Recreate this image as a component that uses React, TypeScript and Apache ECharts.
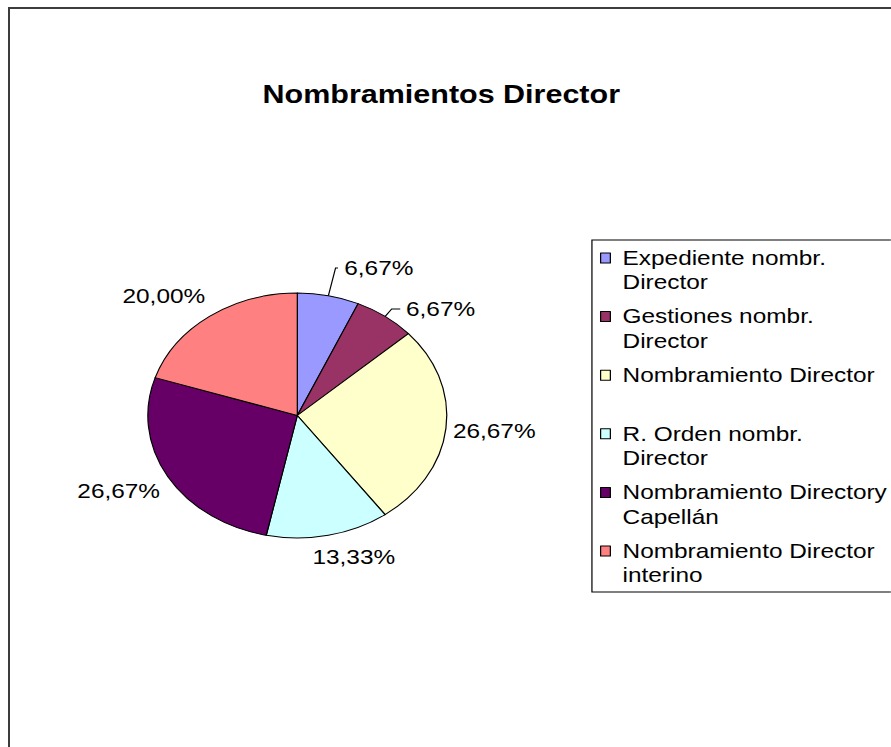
import React, { useEffect, useRef } from "react";
import * as echarts from "echarts";

// ---- data ----
const chartTitle = "Nombramientos Director";
const categories = [
  "Expediente nombr. Director",
  "Gestiones nombr. Director",
  "Nombramiento Director",
  "R. Orden nombr. Director",
  "Nombramiento Director y Capellán",
  "Nombramiento Director interino",
];
const legendLines = [
  ["Expediente nombr.", "Director"],
  ["Gestiones nombr.", "Director"],
  ["Nombramiento Director", ""],
  ["R. Orden nombr.", "Director"],
  ["Nombramiento Directory", "Capellán"],
  ["Nombramiento Director", "interino"],
];
const percentValues = [6.67, 6.67, 26.67, 13.33, 26.67, 20.0];
const sliceColors = ["#9999FF", "#993366", "#FFFFCC", "#CCFFFF", "#660066", "#FF8080"];

// ---- layout / style ----
const SX = 1.22; // horizontal stretch of the original picture
const PAGE_W = 881;
const PAGE_H = 738;
const CW = PAGE_W / SX;
const CH = PAGE_H;
const FONT = "Arial, 'Liberation Sans', sans-serif";

const labelCfg = [
  { len: 28.3, len2: 2, dist: 5.1, pad: [0, 0, 0, 0], line: true },
  { len: 9.1, len2: 7, dist: 4.7, pad: [0, 0, 0, 0], line: true },
  { len: 1, len2: 0, dist: 4.7, pad: [5.2, 0, 0, 0], line: false },
  { len: 10, len2: 0, dist: -15.1, pad: [23.8, 0, 0, 0], line: false },
  { len: 5, len2: 0, dist: 2.1, pad: [23.5, 0, 0, 0], line: false },
  { len: 8, len2: 0, dist: -1.2, pad: [0, 0, 27.8, 0], line: false },
];

function fmtPct(v: number) {
  return v.toFixed(2).replace(".", ",") + "%";
}

export default function App() {
  const ref = useRef<HTMLDivElement>(null);
  useEffect(() => {
    const chart = echarts.init(ref.current!, undefined, {
      renderer: "svg",
      width: CW,
      height: CH,
    });
    const data = categories.map((name, i) => ({
      name,
      value: percentValues[i],
      itemStyle: { color: sliceColors[i] },
      label: {
        distanceToLabelLine: labelCfg[i].dist,
        padding: labelCfg[i].pad,
      },
      labelLine: {
        show: labelCfg[i].line,
        length: labelCfg[i].len,
        length2: labelCfg[i].len2,
      },
    }));
    chart.setOption({
      animation: false,
      backgroundColor: "#ffffff",
      title: {
        text: chartTitle,
        left: 207,
        top: 73,
        padding: 0,
        textStyle: {
          fontSize: 25,
          fontWeight: "bold",
          fontFamily: FONT,
          color: "#000",
        },
      },
      legend: {
        orient: "vertical",
        left: 477,
        top: 231,
        padding: [5.75, 12, 4.25, 6.6],
        itemGap: 9.6,
        itemWidth: 8,
        itemHeight: 34.5,
        icon: "path://M0,0H8V10H0Z M0,34.5",
        symbolKeepAspect: false,
        borderColor: "#000",
        borderWidth: 1,
        backgroundColor: "#fff",
        selectedMode: false,
        itemStyle: { borderColor: "#000", borderWidth: 1 },
        formatter: (name: string) => {
          const i = categories.indexOf(name);
          return legendLines[i][0] + "\n" + (legendLines[i][1] || " ");
        },
        textStyle: {
          fontSize: 20,
          fontFamily: FONT,
          color: "#000",
          lineHeight: 24.5,
          padding: [0, 0, 0, 5],
        },
        data: categories,
      },
      series: [
        {
          type: "pie",
          center: [235.5, 406.5],
          radius: 122.5,
          startAngle: 90,
          clockwise: true,
          avoidLabelOverlap: false,
          itemStyle: { borderColor: "#000", borderWidth: 1 },
          emphasis: { disabled: true },
          label: {
            show: true,
            position: "outside",
            formatter: (p: any) => "{v|" + fmtPct(p.value) + "}",
            rich: {
              v: { fontSize: 20, fontFamily: FONT, color: "#000" },
            },
          },
          labelLine: {
            lineStyle: { color: "#000", width: 1 },
          },
          data,
        },
      ],
    });
    return () => chart.dispose();
  }, []);

  return (
    <div
      style={{
        position: "fixed",
        left: 8,
        top: 7,
        width: 883,
        height: 740,
        overflow: "hidden",
        boxSizing: "border-box",
        borderTop: "2px solid #3c3c3c",
        borderLeft: "2px solid #3c3c3c",
        background: "#fff",
      }}
    >
      <div
        ref={ref}
        style={{
          width: CW,
          height: CH,
          transform: `scaleX(${SX})`,
          transformOrigin: "0 0",
        }}
      />
    </div>
  );
}
